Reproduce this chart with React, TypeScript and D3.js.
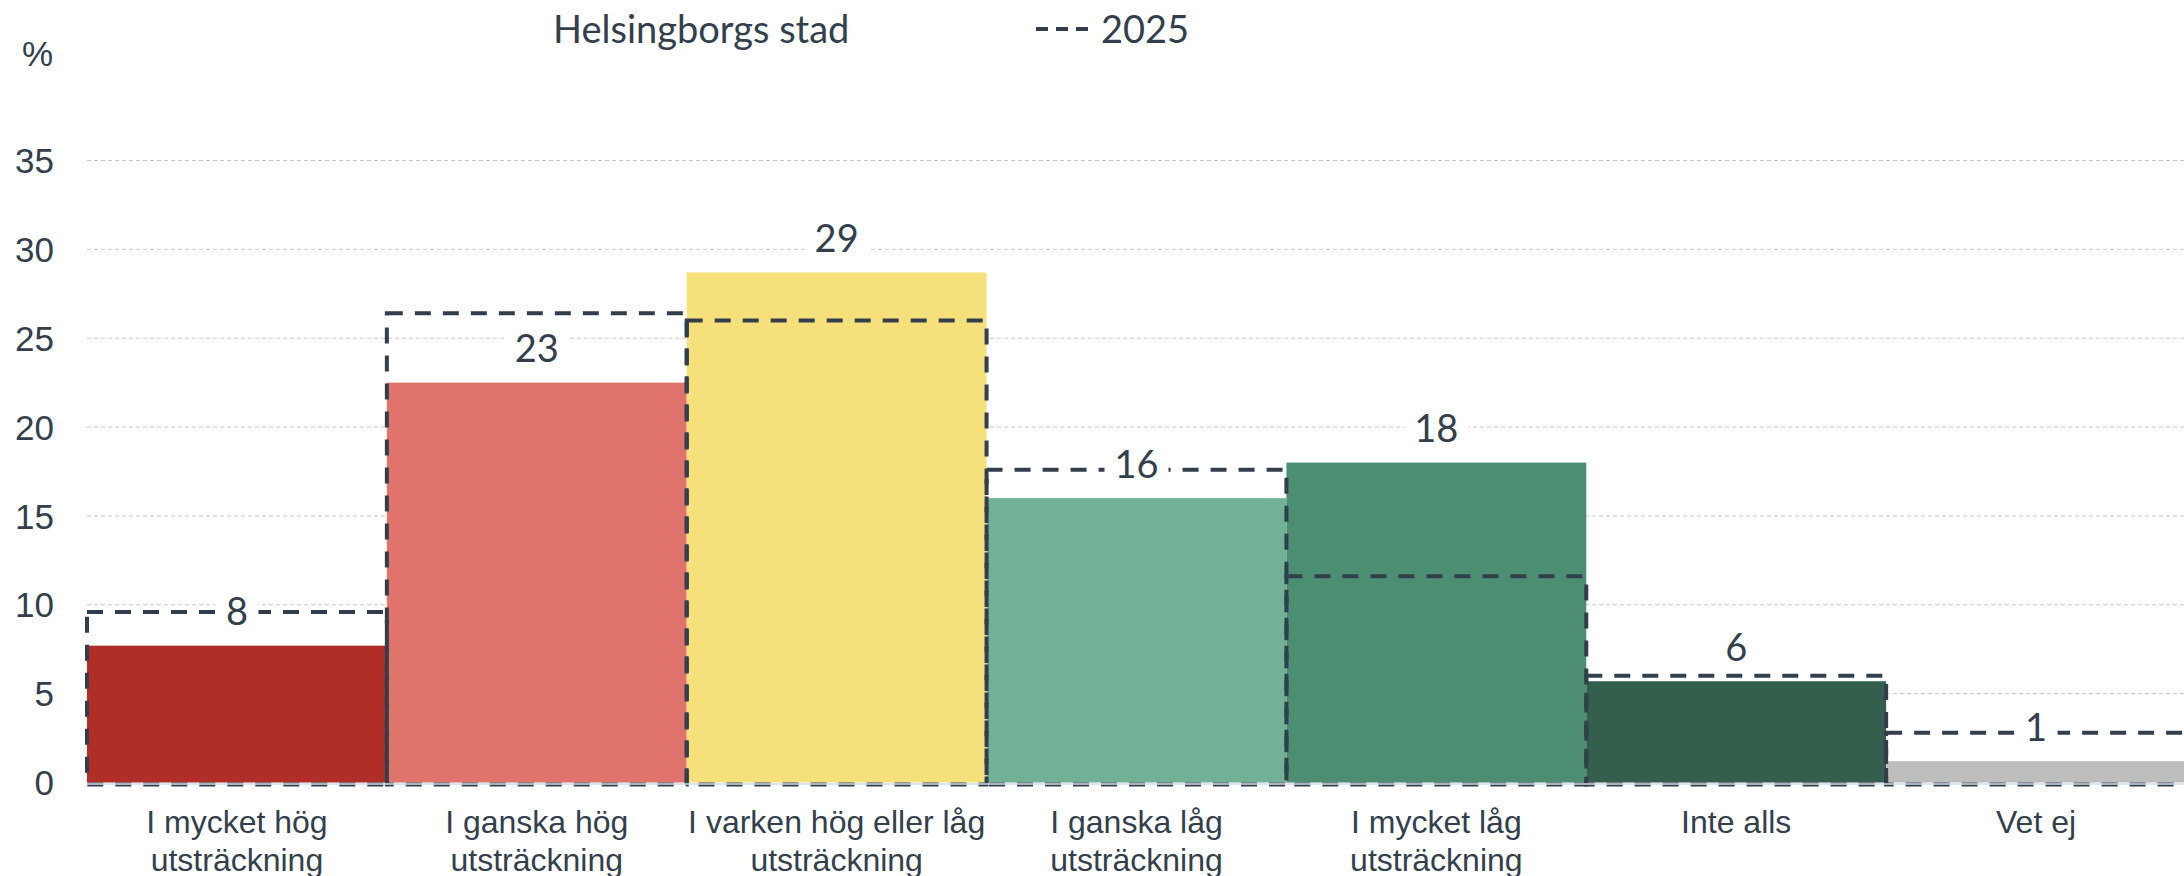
import React from 'react';
import * as d3 from 'd3';

// categories and values
const categories = [
  ['I mycket hög', 'utsträckning'],
  ['I ganska hög', 'utsträckning'],
  ['I varken hög eller låg', 'utsträckning'],
  ['I ganska låg', 'utsträckning'],
  ['I mycket låg', 'utsträckning'],
  ['Inte alls'],
  ['Vet ej'],
];
const cityValues = [7.7, 22.5, 28.7, 16.0, 18.0, 5.7, 1.2];
const cityLabels = ['8', '23', '29', '16', '18', '6', '1'];
const values2025 = [9.6, 26.4, 26.0, 17.6, 11.6, 6.0, 2.8];
const barColors = ['#b02e27', '#e0736c', '#f6e07b', '#71b297', '#4c8e72', '#335f4c', '#bdbdbd'];
const yTicks = [0, 5, 10, 15, 20, 25, 30, 35];

const legendCity = 'Helsingborgs stad';
const legend2025 = '2025';

const textColor = '#333f4c';
const dashColor = '#323e4b';

const App = () => {
  const width = 2184;
  const height = 876;
  const left = 87;
  const right = 2186;

  const x = d3.scaleBand<number>()
    .domain(d3.range(categories.length))
    .range([left, right])
    .padding(0);

  const y = d3.scaleLinear()
    .domain([0, 35])
    .range([782.5, 160.5]);

  const bw = x.bandwidth();
  const y0 = y(0);

  return (
    <svg width={width} height={height} style={{ position: 'absolute', left: 0, top: 0 }}>
      <rect width={width} height={height} fill="#fff" />

      {/* gridlines */}
      {yTicks.filter(t => t > 0).map(t => (
        <line key={t} x1={left} x2={width} y1={y(t)} y2={y(t)}
          stroke="#c8c8c8" strokeWidth={1} strokeDasharray="4,3" />
      ))}

      {/* y axis labels */}
      {yTicks.map(t => (
        <text key={t} x={54} y={y(t)} dy="0.36em" textAnchor="end"
          fontFamily="'Liberation Sans', Arial, sans-serif" fontSize={35} fill={textColor}>
          {t}
        </text>
      ))}
      <text x={22} y={66} fontFamily="'Liberation Sans', Arial, sans-serif" fontSize={35} fill={textColor}>%</text>

      {/* Helsingborgs stad bars */}
      {cityValues.map((v, i) => (
        <rect key={i} x={x(i)} y={y(v)} width={bw} height={y0 - y(v)} fill={barColors[i]} />
      ))}

      {/* 2025 dashed outlines */}
      {values2025.map((v, i) => (
        <rect key={i} x={x(i)} y={y(v)} width={bw} height={y0 + 2 - y(v)}
          fill="none" stroke={dashColor} strokeWidth={4} strokeDasharray="16,12" />
      ))}

      {/* x axis line */}
      <line x1={left} x2={width} y1={y0 + 1.5} y2={y0 + 1.5} stroke="#d3dbe6" strokeWidth={1.5} />

      {/* data labels */}
      {cityValues.map((v, i) => {
        const cx = x(i)! + bw / 2;
        const cy = y(v) - 34;
        const w = cityLabels[i].length * 21 + 22;
        return (
          <g key={i}>
            <rect x={cx - w / 2} y={cy - 17} width={w} height={34} fill="#fff" />
            <text x={cx} y={cy} dy="0.36em" textAnchor="middle"
              fontFamily="Lato, sans-serif" fontSize={38} fill={textColor}>
              {cityLabels[i]}
            </text>
          </g>
        );
      })}

      {/* category labels */}
      {categories.map((lines, i) => (
        <text key={i} x={x(i)! + bw / 2} y={833} textAnchor="middle"
          fontFamily="'Liberation Sans', Arial, sans-serif" fontSize={32} fill={textColor}>
          {lines.map((l, j) => (
            <tspan key={j} x={x(i)! + bw / 2} dy={j === 0 ? 0 : 37.5}>{l}</tspan>
          ))}
        </text>
      ))}

      {/* legend */}
      <text x={553} y={43} fontFamily="Lato, sans-serif" fontSize={38} fill={textColor}>{legendCity}</text>
      <line x1={1036} x2={1088} y1={29} y2={29} stroke={dashColor} strokeWidth={4} strokeDasharray="12,8" />
      <text x={1101} y={43} fontFamily="Lato, sans-serif" fontSize={38} fill={textColor}>{legend2025}</text>
    </svg>
  );
};

export default App;
